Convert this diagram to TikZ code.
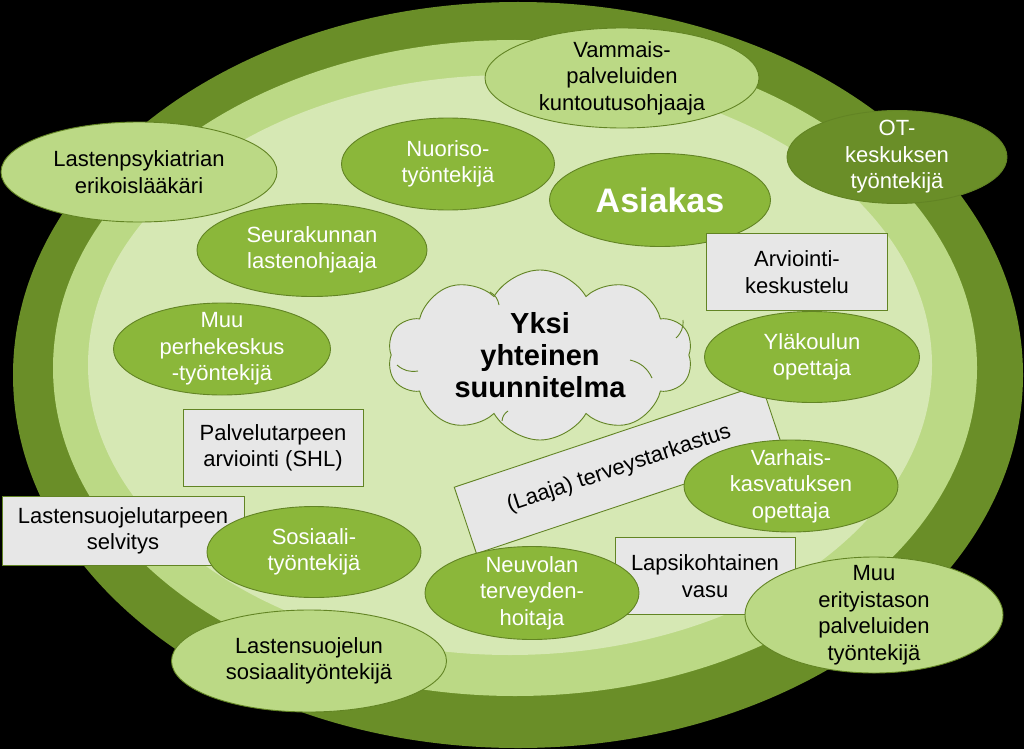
\documentclass[tikz,border=0pt]{standalone}
\usepackage{fontspec}
\setmainfont{Liberation Sans}
\usetikzlibrary{shapes.geometric,shapes.symbols,positioning}

\definecolor{ringdark}{RGB}{106,142,40}
\definecolor{ringmid}{RGB}{187,217,133}
\definecolor{ringin}{RGB}{214,232,180}
\definecolor{midgreen}{RGB}{139,183,58}
\definecolor{edgegreen}{RGB}{98,132,36}
\definecolor{boxgray}{RGB}{231,231,231}

\begin{document}
\begin{tikzpicture}[
  x=1pt, y=-1pt,
  txt/.style={font=\fontsize{22}{26.5}\selectfont, align=center},
  role/.style={ellipse, draw=edgegreen, line width=0.9pt, txt, inner xsep=-12pt, inner ysep=-14pt},
  lightrole/.style={role, fill=ringmid, text=black},
  midrole/.style={role, fill=midgreen, text=white},
  darkrole/.style={role, fill=ringdark, text=white},
  task/.style={rectangle, draw=edgegreen, fill=boxgray, line width=0.9pt, txt, inner sep=0pt, text=black},
  puffline/.style={draw=edgegreen, line width=0.9pt}
]

\useasboundingbox (0,0) rectangle (1024,749);
\fill[black] (0,0) rectangle (1024,749);

% Taustarenkaat
\fill[ringdark] (518,375) ellipse [x radius=505pt, y radius=373pt];
\fill[ringmid] (515,368) ellipse [x radius=462pt, y radius=328pt];
\fill[ringin] (510,365) ellipse [x radius=422pt, y radius=290pt];

% Ulkokehan toimijat
\node[lightrole, minimum width=276pt, minimum height=100pt] (psykiatri) at (139,172) {Lastenpsykiatrian\\erikoislääkäri};
\node[lightrole, minimum width=274pt, minimum height=100pt] (vammais) at (622,78) {Vammais-\\palveluiden\\kuntoutusohjaaja};
\node[darkrole, minimum width=220pt, minimum height=93pt] (ot) at (897,157) {OT-\\keskuksen\\työntekijä};

% Sisäkehän toimijat
\node[midrole, minimum width=213pt, minimum height=92pt] (nuoriso) at (448,164) {Nuoriso-\\työntekijä};
\node[midrole, minimum width=221pt, minimum height=93pt, font=\fontsize{34}{40}\selectfont\bfseries] (asiakas) at (660,200) {Asiakas};
\node[midrole, minimum width=230pt, minimum height=93pt] (seurakunta) at (312,250) {Seurakunnan\\lastenohjaaja};
\node[task, minimum width=181pt, minimum height=77pt] (arviointi) at (797,272) {Arviointi-\\keskustelu};
\node[midrole, minimum width=217pt, minimum height=92pt] (perhekeskus) at (222,349) {Muu\\perhekeskus\\-työntekijä};
\node[task, minimum width=180pt, minimum height=77pt] (shl) at (273,448) {Palvelutarpeen\\arviointi (SHL)};

% Terveystarkastus ja suunnitelma
\node[task, minimum width=324pt, minimum height=70pt, rotate=18.5] (tarkastus) at (619,469) {(Laaja) terveystarkastus};
\node[cloud, cloud puffs=10, cloud puff arc=120, cloud ignores aspect, draw=edgegreen, fill=boxgray, line width=0.9pt,
      minimum width=305pt, minimum height=170pt, inner xsep=-40pt, inner ysep=-30pt,
      font=\fontsize{29}{32}\selectfont\bfseries, align=center] (suunnitelma) at (540,355) {Yksi\\yhteinen\\suunnitelma};
\draw[puffline] (397,365) to[bend right=25] (418,371);
\draw[puffline] (490,292) to[bend left=25] (499,305);
\draw[puffline] (630,360) to[bend left=25] (652,378);
\draw[puffline] (676,338) to[bend right=25] (683,320);
\draw[puffline] (502,421) to[bend left=25] (508,411);

\node[midrole, minimum width=215pt, minimum height=91pt] (ylakoulu) at (812,357) {Yläkoulun\\opettaja};
\node[midrole, minimum width=214pt, minimum height=92pt] (varhais) at (791,486) {Varhais-\\kasvatuksen\\opettaja};

% Alaosa
\node[task, minimum width=242pt, minimum height=69pt] (lsselvitys) at (123,531) {Lastensuojelutarpeen\\selvitys};
\node[midrole, minimum width=214pt, minimum height=91pt] (sosiaali) at (314,552) {Sosiaali-\\työntekijä};
\node[task, minimum width=180pt, minimum height=77pt] (vasu) at (705,576) {Lapsikohtainen\\vasu};
\node[midrole, minimum width=214pt, minimum height=93pt] (neuvola) at (532,593) {Neuvolan\\terveyden-\\hoitaja};
\node[lightrole, minimum width=258pt, minimum height=116pt] (erityis) at (874,615) {Muu\\erityistason\\palveluiden\\työntekijä};
\node[lightrole, minimum width=275pt, minimum height=102pt] (lastensuojelu) at (309,661) {Lastensuojelun\\sosiaalityöntekijä};

\end{tikzpicture}
\end{document}
